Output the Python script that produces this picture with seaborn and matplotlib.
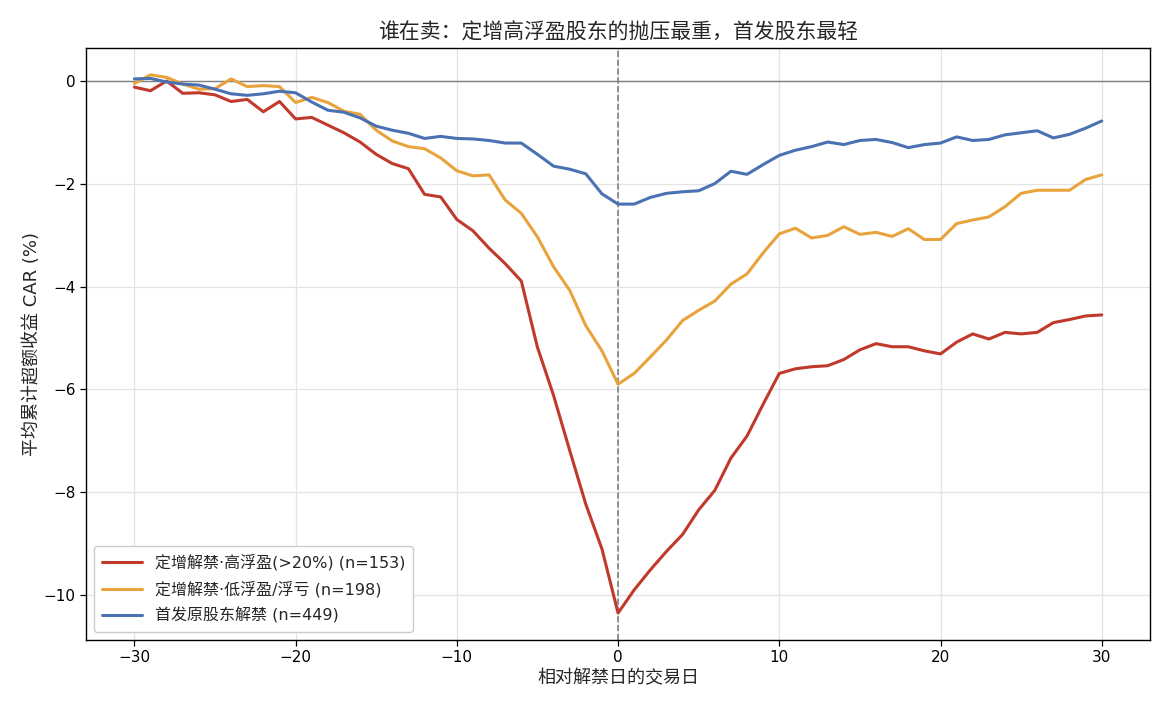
import numpy as np
import pandas as pd
import matplotlib
matplotlib.use("Agg")
import matplotlib.pyplot as plt
import seaborn as sns

days = list(range(-30, 31))

high_float = [-0.11, -0.18, 0.01, -0.23, -0.22, -0.26, -0.39, -0.35, -0.59, -0.39,
              -0.73, -0.70, -0.85, -1.00, -1.18, -1.42, -1.60, -1.70, -2.20, -2.25,
              -2.69, -2.91, -3.25, -3.55, -3.89, -5.18, -6.12, -7.19, -8.24, -9.11,
              -10.36, -9.91, -9.52, -9.16, -8.83, -8.35, -7.97, -7.34, -6.91, -6.29,
              -5.69, -5.60, -5.56, -5.54, -5.42, -5.23, -5.11, -5.17, -5.17, -5.25,
              -5.31, -5.08, -4.92, -5.02, -4.89, -4.92, -4.89, -4.70, -4.64, -4.57,
              -4.55]
low_float = [-0.04, 0.13, 0.08, -0.05, -0.15, -0.14, 0.05, -0.10, -0.08, -0.10,
             -0.41, -0.31, -0.41, -0.58, -0.64, -0.95, -1.16, -1.27, -1.31, -1.49,
             -1.74, -1.84, -1.82, -2.31, -2.57, -3.03, -3.61, -4.07, -4.76, -5.25,
             -5.90, -5.69, -5.37, -5.04, -4.66, -4.46, -4.28, -3.95, -3.75, -3.34,
             -2.97, -2.86, -3.05, -3.00, -2.83, -2.98, -2.94, -3.02, -2.87, -3.08,
             -3.08, -2.77, -2.70, -2.64, -2.44, -2.18, -2.12, -2.12, -2.12, -1.91,
             -1.82]
ipo_holders = [0.05, 0.06, -0.01, -0.05, -0.07, -0.15, -0.24, -0.27, -0.24, -0.19,
               -0.22, -0.40, -0.56, -0.60, -0.71, -0.87, -0.95, -1.01, -1.11, -1.07,
               -1.11, -1.12, -1.15, -1.20, -1.20, -1.42, -1.65, -1.71, -1.80, -2.19,
               -2.39, -2.39, -2.26, -2.18, -2.15, -2.13, -1.99, -1.75, -1.81, -1.62,
               -1.44, -1.34, -1.27, -1.18, -1.23, -1.15, -1.13, -1.19, -1.29, -1.23,
               -1.20, -1.08, -1.15, -1.13, -1.04, -1.00, -0.96, -1.10, -1.03, -0.91,
               -0.77]

labels = ["定增解禁·高浮盈(>20%) (n=153)",
          "定增解禁·低浮盈/浮亏 (n=198)",
          "首发原股东解禁 (n=449)"]
colors = ["#C0392B", "#E8A33D", "#4A72B2"]

sns.set_style("white")
plt.rcParams['font.family'] = ['DejaVu Sans', 'Noto Sans CJK SC']
plt.rcParams['axes.unicode_minus'] = True

fig = plt.figure(figsize=(11.7, 7.15), dpi=100)
ax = fig.add_axes([0.0735, 0.105, 0.9095, 0.828])

for series, lab, col in zip([high_float, low_float, ipo_holders], labels, colors):
    df = pd.DataFrame({"day": days, "car": series})
    sns.lineplot(data=df, x="day", y="car", ax=ax, color=col, linewidth=2.2, label=lab)

ax.axhline(0, color="#808080", linewidth=1.0, zorder=1)
ax.axvline(0, color="#808080", linewidth=1.2, linestyle="--", zorder=1)

ax.grid(True, color="#E3E3E3", linewidth=0.9)
ax.set_axisbelow(True)
for s in ax.spines.values():
    s.set_color("black")
    s.set_linewidth(1.0)
ax.tick_params(axis="both", which="both", direction="out", length=4, width=0.9,
               colors="black", labelsize=11, bottom=True, left=True)
ax.set_xticks([-30, -20, -10, 0, 10, 20, 30])
ax.set_xlabel("相对解禁日的交易日", fontsize=13, labelpad=3)
ax.set_ylabel("平均累计超额收益 CAR (%)", fontsize=13, labelpad=2)
ax.set_title("谁在卖：定增高浮盈股东的抛压最重，首发股东最轻", fontsize=15, pad=7)

leg = ax.legend(loc="lower left", fontsize=11.5, frameon=True, framealpha=1.0,
                edgecolor="#CCCCCC", borderpad=0.5, handlelength=2.5,
                labelspacing=0.65)

fig.savefig("out.png", dpi=100)
